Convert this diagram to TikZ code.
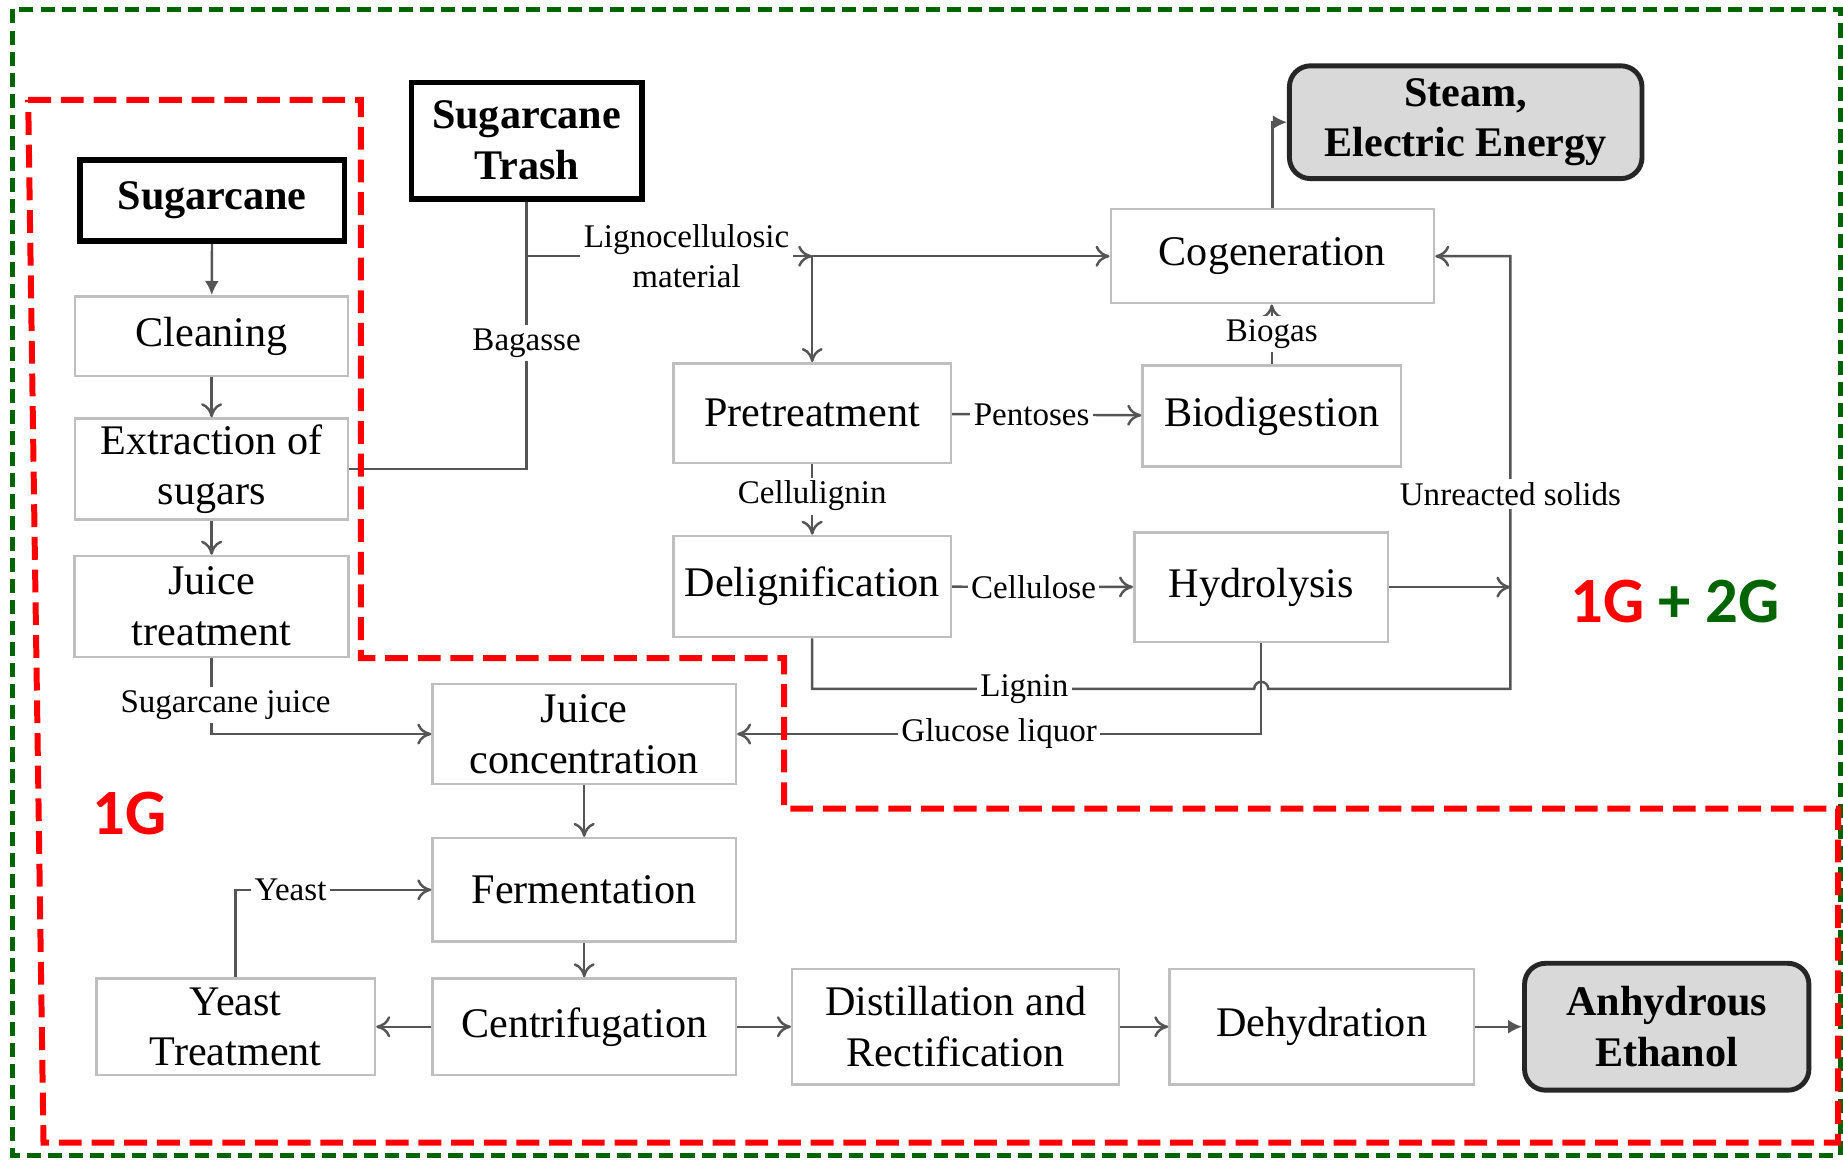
\documentclass[tikz,border=0pt]{standalone}
\usepackage{fontspec}
\setmainfont{Liberation Serif}
\newfontfamily\calibri{Carlito}
\usepackage{tikz}
\usetikzlibrary{arrows.meta}
\definecolor{darkgreen}{RGB}{0,100,0}
\definecolor{linegray}{RGB}{85,85,85}

\begin{document}
\begin{tikzpicture}[y=-1cm]
		\tikzstyle{BoxStyle}=[draw=gray!50, line width=0.7pt, fill=white, align=center, inner sep=0pt, font=\fontsize{12}{14.4}\selectfont]
		\tikzstyle{InputStyle}=[BoxStyle, draw=black, line width=1.6pt, font=\fontsize{12}{14.4}\selectfont\bfseries]
		\tikzstyle{OutputStyle}=[InputStyle, rounded corners=6pt, fill=gray!30, draw=black!85, line width=1.4pt]
		\tikzstyle{EdgeStyle}=[draw=linegray, line width=0.7pt]
		\tikzstyle{post}=[EdgeStyle, -{To[length=4pt,width=6pt]}]
		\tikzstyle{postfill}=[EdgeStyle, -{Latex[length=4pt,width=4pt]}]
		\tikzstyle{LabelStyle}=[fill=white, inner sep=1pt, align=center, font=\fontsize{9.4}{11.4}\selectfont]
		\useasboundingbox (0,0) rectangle (18.43,11.59);

		% first generation
		\node[InputStyle, minimum width=2.645cm, minimum height=0.811cm] (sugarcane) at (2.122,2.004) {Sugarcane};
		\node[BoxStyle, minimum width=2.727cm, minimum height=0.799cm] (cleaning) at (2.116,3.362) {Cleaning};
		\node[BoxStyle, minimum width=2.727cm, minimum height=1.011cm] (extraction) at (2.116,4.690) {Extraction of\\sugars};
		\node[BoxStyle, minimum width=2.739cm, minimum height=1.011cm] (juicetr) at (2.116,6.065) {Juice\\treatment};
		\node[BoxStyle, minimum width=3.033cm, minimum height=0.999cm] (juiceconc) at (5.842,7.340) {Juice\\concentration};
		\node[BoxStyle, minimum width=3.033cm, minimum height=1.034cm] (ferment) at (5.842,8.898) {Fermentation};
		\node[BoxStyle, minimum width=3.033cm, minimum height=0.964cm] (centrif) at (5.842,10.267) {Centrifugation};
		\node[BoxStyle, minimum width=2.786cm, minimum height=0.964cm] (yeasttr) at (2.357,10.267) {Yeast\\Treatment};
		\node[BoxStyle, minimum width=3.268cm, minimum height=1.152cm] (distil) at (9.556,10.267) {Distillation and\\Rectification};
		\node[BoxStyle, minimum width=3.044cm, minimum height=1.152cm] (dehyd) at (13.217,10.267) {Dehydration};
		\node[OutputStyle, minimum width=2.844cm, minimum height=1.269cm] (ethanol) at (16.667,10.267) {Anhydrous\\Ethanol};

		% second generation
		\node[InputStyle, minimum width=2.304cm, minimum height=1.164cm] (trash) at (5.266,1.405) {Sugarcane\\Trash};
		\node[BoxStyle, minimum width=2.774cm, minimum height=0.999cm] (pretreat) at (8.122,4.132) {Pretreatment};
		\node[BoxStyle, minimum width=2.774cm, minimum height=1.011cm] (delign) at (8.122,5.865) {Delignification};
		\node[BoxStyle, minimum width=3.232cm, minimum height=0.940cm] (cogen) at (12.724,2.562) {Cogeneration};
		\node[BoxStyle, minimum width=2.586cm, minimum height=1.011cm] (biodig) at (12.718,4.161) {Biodigestion};
		\node[BoxStyle, minimum width=2.539cm, minimum height=1.093cm] (hydro) at (12.612,5.871) {Hydrolysis};
		\node[OutputStyle, minimum width=3.526cm, minimum height=1.128cm] (steam) at (14.657,1.222) {Steam,\\Electric Energy};

		\coordinate (split) at (pretreat |- cogen);
		\coordinate (solids) at (15.104,6.888);
		\path (hydro.south |- solids) ++(-0.07,0) coordinate (hop);

		% 1G edges
		\draw[postfill] (sugarcane) -- (cleaning);
		\draw[post] (cleaning) -- (extraction);
		\draw[post] (extraction) -- (juicetr);
		\draw[post] (juicetr.south) |- node[LabelStyle, pos=0.31, xshift=0.14cm]{Sugarcane juice} (juiceconc.west);
		\draw[post] (juiceconc) -- (ferment);
		\draw[post] (ferment) -- (centrif);
		\draw[post] (centrif) -- (yeasttr);
		\draw[post] (yeasttr.north) |- node[LabelStyle, pos=0.64]{Yeast} (ferment.west);
		\draw[post] (centrif) -- (distil);
		\draw[post] (distil) -- (dehyd);
		\draw[postfill] (dehyd) -- (ethanol);

		% 2G edges
		\draw[EdgeStyle] (extraction.east) -| node[LabelStyle, pos=0.735]{Bagasse} (trash.south);
		\draw[post] (trash.south |- cogen) -- node[LabelStyle, pos=0.56]{Lignocellulosic\\material} (split);
		\draw[post] (split) -- (cogen);
		\draw[post] (split) -- (pretreat);
		\draw[postfill] (cogen.north) |- (steam.west);
		\draw[post] (pretreat) -- node[LabelStyle, pos=0.42]{Pentoses} (biodig);
		\draw[post] (biodig.north) -- node[LabelStyle]{Biogas} (biodig.north |- cogen.south);
		\draw[post] (pretreat) -- node[LabelStyle, pos=0.45]{Cellulignin} (delign);
		\draw[post] (delign) -- node[LabelStyle, pos=0.45]{Cellulose} (hydro);
		\draw[post] (hydro.east) -- (hydro.east -| solids);
		\draw[post] (delign.south) -- (delign.south |- solids) -- node[LabelStyle, pos=0.48]{Lignin} (hop)
			arc[start angle=180, end angle=360, radius=0.07] -- (solids)
			-- node[LabelStyle, pos=0.45]{Unreacted solids} (solids |- cogen) -- (cogen.east);
		\draw[post] (hydro.south) |- node[LabelStyle, pos=0.75]{Glucose liquor} (juiceconc.east);

		% borders
		\draw[darkgreen, line width=1.4pt, dash pattern=on 4pt off 2pt] (0.129,0.094) rectangle (18.40,11.554);
		\draw[red, line width=1.7pt, dash pattern=on 6.5pt off 2.8pt] (0.282,0.999) -- (3.608,0.999) -- (3.608,6.582) -- (7.840,6.582)
			-- (7.840,8.087) -- (18.38,8.087) -- (18.38,11.425) -- (0.435,11.425) -- cycle;
		\node[text=red, font=\calibri\bfseries\fontsize{18.4}{20}\selectfont] (firstgen) at (1.293,8.134) {1G};
		\node[font=\calibri\bfseries\fontsize{18.4}{20}\selectfont] (bothgen) at (16.749,6.018) {\textcolor{red}{1G} \textcolor{darkgreen}{+ 2G}};
	\end{tikzpicture}
\end{document}
